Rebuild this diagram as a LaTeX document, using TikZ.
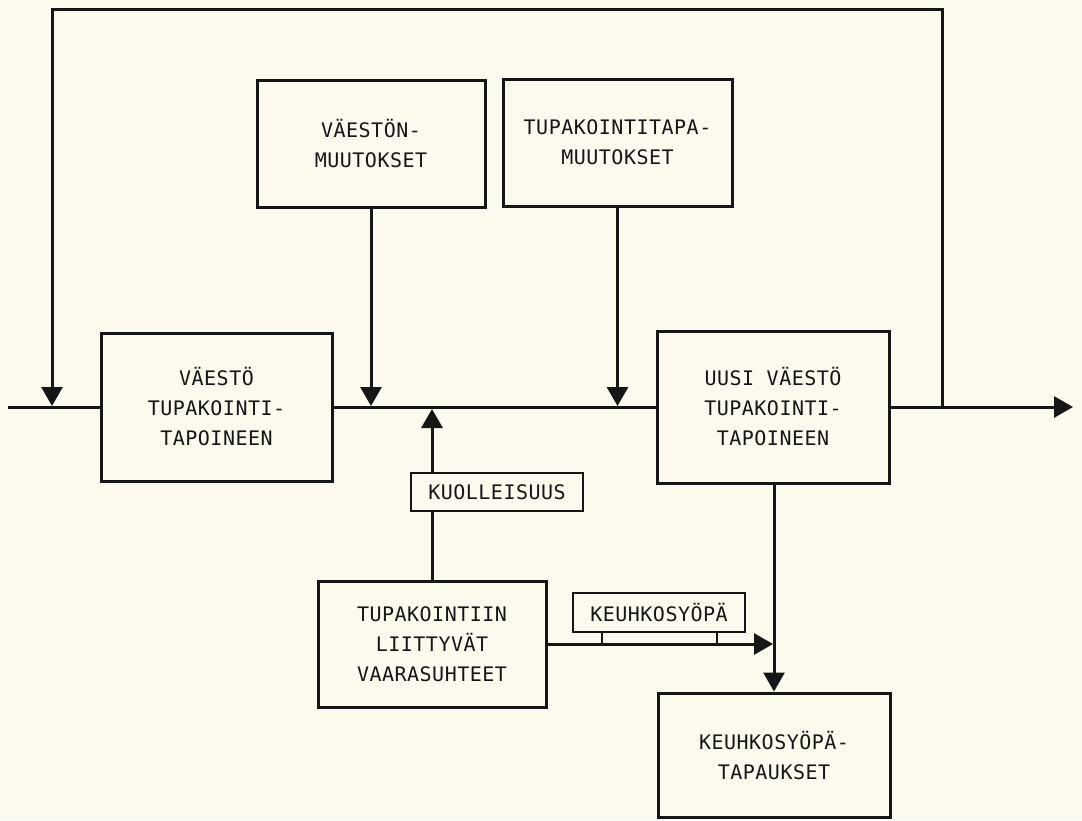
\documentclass[tikz,border=0pt]{standalone}
\usepackage{fontspec}
\newfontfamily\diafont{DejaVu Sans Mono}[LetterSpace=2.5]
\usetikzlibrary{arrows.meta,calc}
\definecolor{paper}{RGB}{252,249,237}
\definecolor{ink}{RGB}{22,22,22}
\begin{document}
\begin{tikzpicture}[x=1pt,y=-1pt,
  blockbox/.style={draw=ink,line width=3pt,fill=paper,inner sep=0pt,align=center,
    text=ink,font=\diafont\fontsize{20}{30}\selectfont},
  tagbox/.style={draw=ink,line width=1.8pt,fill=paper,inner sep=0pt,align=center,
    text=ink,font=\diafont\fontsize{20}{30}\selectfont},
  flow/.style={draw=ink,line width=3pt},
  arr/.style={flow,-{Triangle[length=19pt,width=21pt]}}]
\useasboundingbox (0,0) rectangle (1082,820);
\fill[paper] (0,0) rectangle (1082,820);

% blocks
\node[blockbox,minimum width=231pt,minimum height=148pt] (A) at (216.5,407) {VÄESTÖ\\TUPAKOINTI-\\TAPOINEEN};
\node[blockbox,minimum width=228pt,minimum height=127pt] (B) at (371,143.5) {VÄESTÖN-\\MUUTOKSET};
\node[blockbox,minimum width=229pt,minimum height=127pt] (C) at (617.5,142.5) {TUPAKOINTITAPA-\\MUUTOKSET};
\node[blockbox,minimum width=232pt,minimum height=152pt] (D) at (773,407) {UUSI VÄESTÖ\\TUPAKOINTI-\\TAPOINEEN};
\node[blockbox,minimum width=228pt,minimum height=126pt] (E) at (432,644) {TUPAKOINTIIN\\LIITTYVÄT\\VAARASUHTEET};
\node[blockbox,minimum width=232pt,minimum height=124pt] (F) at (774,755) {KEUHKOSYÖPÄ-\\TAPAUKSET};

% coordinates on the main line
\coordinate (start) at (8,407);
\coordinate (endp) at (1073,407);
\coordinate (jB) at (371,406);
\coordinate (jE) at (432,409);
\coordinate (fbR) at (942,407);
\coordinate (fbTR) at (942,9);
\coordinate (fbTL) at (52,9);
\coordinate (fbL) at (52,406);
\coordinate (kHit) at (773,644);

% main line
\draw[flow] (start) -- (A.west);
\draw[flow] (A.east) -- (D.west);
\draw[arr] (D.east) -- (endp);

% feedback loop
\draw[arr,line join=miter] (fbR) -- (fbTR) -- (fbTL) -- (fbL);

% inputs from above
\draw[arr] (B.south) -- (jB);
\draw[arr] (C.south) -- (C.south |- jB);

% mortality
\draw[arr] (E.north) -- (jE);
\node[tagbox,minimum width=172pt,minimum height=38pt] (kuol) at (497,492) {KUOLLEISUUS};

% lung cancer
\draw[arr] (E.east) -- (kHit);
\node[tagbox,minimum width=172pt,minimum height=39pt] (keuh) at (659,612.5) {KEUHKOSYÖPÄ};
\draw[line width=1.8pt,draw=ink] ([xshift=30pt]keuh.south west) -- ([xshift=30pt]keuh.south west |- E.east);
\draw[line width=1.8pt,draw=ink] ([xshift=-29pt]keuh.south east) -- ([xshift=-29pt]keuh.south east |- E.east);

% new population to cases
\draw[arr] (D.south -| F.north) -- (F.north);
\end{tikzpicture}
\end{document}
